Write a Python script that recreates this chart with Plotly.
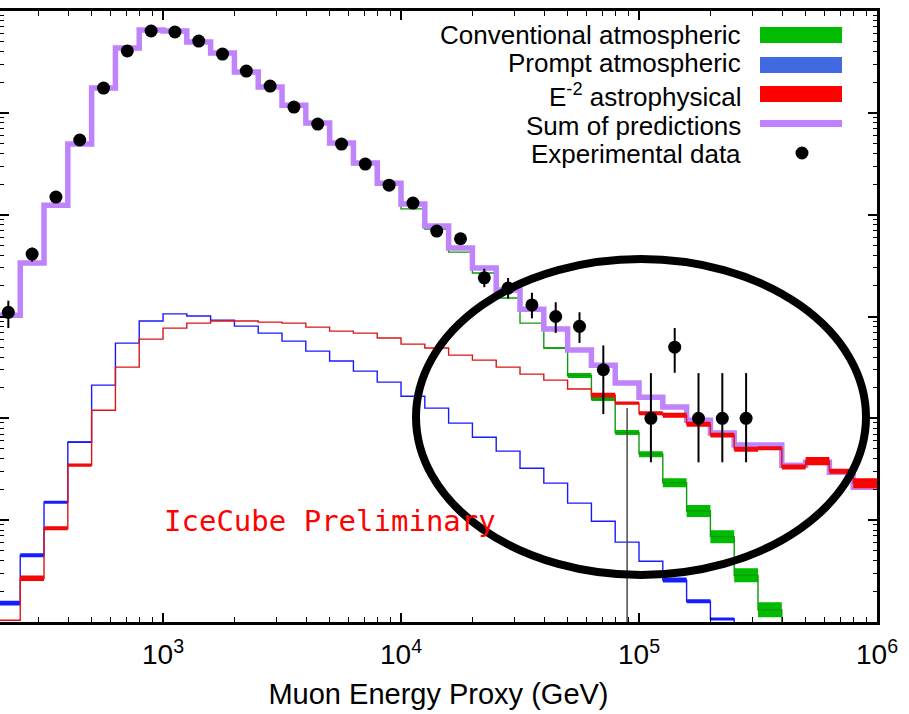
import plotly.graph_objects as go

# ---------------- data ----------------
# log10 bin edges of the muon energy proxy (GeV)
log_edges = [2.3, 2.4, 2.5, 2.6, 2.7, 2.8, 2.9, 3.0, 3.1, 3.2, 3.3, 3.4, 3.5, 3.6, 3.7,
             3.8, 3.9, 4.0, 4.1, 4.2, 4.3, 4.4, 4.5, 4.6, 4.7, 4.8, 4.9, 5.0, 5.1, 5.2,
             5.3, 5.4, 5.5, 5.6, 5.7, 5.8, 5.9, 6.0]

sum_pred = [10.3, 33.5, 124, 494, 1754, 4330, 6510, 6360, 4960, 3870, 2520, 1790, 1190, 794,
            505, 321, 204, 127, 77.3, 47.0, 29.9, 18.2, 11.8, 7.52, 4.68, 3.33, 2.22, 1.61,
            1.29, 0.96, 0.716, 0.546, 0.546, 0.347, 0.371, 0.296, 0.211]

conventional = [10.3, 33.4, 124, 493, 1750, 4320, 6495, 6340, 4940, 3850, 2500, 1775, 1175,
                782, 494, 311, 196, 114, 72.2, 42.9, 26.7, 15.2, 8.61, 4.90, 2.63, 1.55,
                0.724, 0.445, 0.233, 0.123, 0.0689, 0.0288, 0.0132, 0.005, 0.002, 0.001, 0.0005]
conventional_unc = [0] * 23 + [0.02, 0.058, 0.046, 0.058, 0.07, 0.107, 0.145, 0.158, 0.172,
                               0.185, 0.2, 0.2, 0.2, 0.2]

prompt = [0.0153, 0.0453, 0.150, 0.583, 2.12, 5.48, 9.02, 10.6, 10.1, 9.22, 8.05, 6.87, 5.73,
          4.57, 3.65, 2.91, 2.27, 1.65, 1.26, 0.897, 0.653, 0.476, 0.324, 0.231, 0.147,
          0.0977, 0.0608, 0.0395, 0.0258, 0.0160, 0.0107, 0.006, 0.004, 0.0025, 0.0015,
          0.001, 0.0006]
prompt_unc = [0.055, 0.046, 0.035, 0.02] + [0] * 24 + [0.058, 0.046, 0.035, 0.035, 0.035,
                                                      0.035, 0.035, 0.035, 0.035]

astro = [0.0104, 0.0269, 0.0834, 0.347, 1.20, 3.18, 6.00, 7.69, 8.61, 9.02, 9.02, 8.81, 8.61,
         7.87, 7.19, 6.87, 6.14, 5.36, 4.90, 4.18, 3.73, 3.18, 2.72, 2.37, 1.94, 1.69, 1.41,
         1.12, 1.07, 0.877, 0.684, 0.498, 0.509, 0.332, 0.380, 0.303, 0.231]
astro_unc = [0.0, 0.066, 0.046, 0.038] + [0] * 21 + [0.058, 0.035, 0.046, 0.058, 0.058, 0.058,
                                                    0.058, 0.046, 0.058, 0.095, 0.058, 0.12]

data_n = [11, 41, 149, 541, 1750, 4050, 6360, 6220, 5070, 3780, 2570, 1830, 1140, 776, 493,
          314, 195, 130, 69, 58, 24, 19, 13, 10, 8, 3, None, 1, 5, 1, 1, 1,
          None, None, None, None, None]
data_err_up = [3.3, 6.4, 12, 23, 42, 64, 80, 79, 71, 61, 51, 43, 34, 28, 22, 18, 14, 11, 8.3,
               7.6, 5.4, 4.9, 4.1, 3.8, 3.0, 2.2, 0, 1.78, 2.7, 1.78, 1.78, 1.78, 0, 0, 0, 0, 0]
data_err_dn = [3.3, 6.4, 12, 23, 42, 64, 80, 79, 71, 61, 51, 43, 34, 28, 22, 18, 14, 11, 8.3,
               7.6, 4.6, 4.0, 3.4, 3.1, 2.5, 1.9, 0, 0.63, 2.2, 0.63, 0.63, 0.63, 0, 0, 0, 0, 0]
# upper limit for bins with zero observed events
data_upper_limit = [None] * 26 + [1.26] + [None] * 10

x_tick_vals = [1e3, 1e4, 1e5, 1e6]
x_tick_text = ["10<sup>3</sup>", "10<sup>4</sup>", "10<sup>5</sup>", "10<sup>6</sup>"]
legend_labels = ["Conventional atmospheric", "Prompt atmospheric", "E<sup>-2</sup> astrophysical",
                 "Sum of predictions", "Experimental data"]

# ---------------- derived ----------------
edges = [10 ** e for e in log_edges]
centers = [10 ** ((a + b) / 2) for a, b in zip(log_edges[:-1], log_edges[1:])]
Y_LOG_RANGE = [-2, 4]
X_LOG_RANGE = [2.315, 6.0]


def step_xy(vals):
    return edges, list(vals) + [vals[-1]]


def band_xy(vals, unc):
    xs, ys = [], []
    for i, (v, u) in enumerate(zip(vals, unc)):
        if u > 0:
            x0, x1 = edges[i], edges[i + 1]
            lo, hi = v / (1 + u), v * (1 + u)
            xs += [x0, x1, x1, x0, x0, None]
            ys += [lo, lo, hi, hi, lo, None]
    return xs, ys


fig = go.Figure()

# conventional band + line
bx, by = band_xy(conventional, conventional_unc)
fig.add_trace(go.Scatter(x=bx, y=by, mode="lines", fill="toself", fillcolor="#00bb00",
                         line=dict(width=0, color="#00bb00"), hoverinfo="skip", showlegend=False))
sx, sy = step_xy(conventional)
fig.add_trace(go.Scatter(x=sx, y=sy, mode="lines", line=dict(shape="hv", width=1.4, color="#109a10"),
                         showlegend=False))

# sum of predictions
sx, sy = step_xy(sum_pred)
fig.add_trace(go.Scatter(x=sx, y=sy, mode="lines", line=dict(shape="hv", width=5.5, color="#bf84fb"),
                         showlegend=False))

# prompt
bx, by = band_xy(prompt, prompt_unc)
fig.add_trace(go.Scatter(x=bx, y=by, mode="lines", fill="toself", fillcolor="#1020ff",
                         line=dict(width=0, color="#1020ff"), hoverinfo="skip", showlegend=False))
sx, sy = step_xy(prompt)
fig.add_trace(go.Scatter(x=sx, y=sy, mode="lines", line=dict(shape="hv", width=1.4, color="#1a1aff"),
                         showlegend=False))

# astrophysical
bx, by = band_xy(astro, astro_unc)
fig.add_trace(go.Scatter(x=bx, y=by, mode="lines", fill="toself", fillcolor="#ff0000",
                         line=dict(width=0, color="#ff0000"), hoverinfo="skip", showlegend=False))
sx, sy = step_xy(astro)
fig.add_trace(go.Scatter(x=sx, y=sy, mode="lines", line=dict(shape="hv", width=1.4, color="#dd1515"),
                         showlegend=False))

# zero-count bins: upper limit line
ulx, uly = [], []
for c, ul in zip(centers, data_upper_limit):
    if ul is not None:
        ulx += [c, c, None]
        uly += [10 ** Y_LOG_RANGE[0], ul, None]
fig.add_trace(go.Scatter(x=ulx, y=uly, mode="lines", line=dict(width=1.5, color="#4a4a4a"),
                         showlegend=False))

# experimental data
fig.add_trace(go.Scatter(
    x=centers, y=data_n, mode="markers",
    marker=dict(size=13, color="black"),
    error_y=dict(type="data", symmetric=False, array=data_err_up, arrayminus=data_err_dn,
                 color="black", thickness=2, width=0),
    showlegend=False))

# ---------------- layout ----------------
minor_x = [m * 10 ** k for k in range(2, 6) for m in range(2, 10)]
minor_y = [m * 10 ** k for k in range(-2, 4) for m in range(2, 10)]
font_main = "Liberation Sans, Arial, Helvetica, sans-serif"

fig.update_layout(
    width=909, height=714,
    margin=dict(l=0, r=32, t=11, b=92),
    paper_bgcolor="white", plot_bgcolor="white",
    showlegend=False,
    font=dict(family=font_main, color="black"),
    xaxis=dict(
        type="log", range=X_LOG_RANGE,
        tickvals=x_tick_vals, ticktext=x_tick_text,
        ticks="inside", ticklen=9, tickwidth=1.6, tickcolor="black",
        showline=True, linewidth=2.5, linecolor="black", mirror="ticks",
        showgrid=False, zeroline=False,
        tickfont=dict(size=28, family=font_main),
        ticklabelstandoff=6,
        minor=dict(tickvals=minor_x, ticks="inside", ticklen=5, tickwidth=1.3, tickcolor="black",
                   showgrid=False),
        title=dict(text="Muon Energy Proxy (GeV)", font=dict(size=29, family=font_main), standoff=15),
    ),
    yaxis=dict(
        type="log", range=Y_LOG_RANGE,
        tickvals=[10 ** k for k in range(-2, 5)], showticklabels=False,
        ticks="inside", ticklen=9, tickwidth=1.6, tickcolor="black",
        showline=True, linewidth=2.5, linecolor="black", mirror="ticks",
        showgrid=False, zeroline=False,
        minor=dict(tickvals=minor_y, ticks="inside", ticklen=4, tickwidth=1.3, tickcolor="black",
                   showgrid=False),
    ),
)

# plot-area pixel helpers for annotation layout (plot area: x 0..877, y 11..622)
PW, PT, PB = 877.0, 11.0, 622.0


def px(x):
    return x / PW


def py(y):
    return (PB - y) / (PB - PT)


shapes = []
# legend swatches
swatch_colors = ["#00bb00", "#4169e1", "#ff0000"]
swatch_rows = [(27, 43), (57, 73), (86, 102)]
for col, (t, b) in zip(swatch_colors, swatch_rows):
    shapes.append(dict(type="rect", xref="paper", yref="paper", x0=px(760), x1=px(842),
                       y0=py(b), y1=py(t), fillcolor=col, line=dict(width=0), layer="above"))
shapes.append(dict(type="line", xref="paper", yref="paper", x0=px(760), x1=px(842),
                   y0=py(123.5), y1=py(123.5), line=dict(color="#c080ff", width=7), layer="above"))
shapes.append(dict(type="circle", xref="paper", yref="paper", x0=px(795.5), x1=px(808.5),
                   y0=py(159.5), y1=py(146.5), fillcolor="black", line=dict(width=0), layer="above"))
# highlight ellipse
shapes.append(dict(type="circle", xref="paper", yref="paper", x0=px(416), x1=px(866),
                   y0=py(575), y1=py(259), line=dict(color="black", width=8), layer="above"))
fig.update_layout(shapes=shapes)

annotations = []
legend_y = [35, 63, 95, 126, 154]
for lab, yy in zip(legend_labels, legend_y):
    annotations.append(dict(text=lab, xref="paper", yref="paper", x=px(743), y=py(yy),
                            xanchor="right", yanchor="middle", showarrow=False,
                            font=dict(size=26, family=font_main, color="black")))
annotations.append(dict(text="IceCube Preliminary", xref="paper", yref="paper", x=px(330), y=py(521),
                        xanchor="center", yanchor="middle", showarrow=False,
                        font=dict(size=29, family="DejaVu Sans Mono, monospace", color="#ff0000")))
fig.update_layout(annotations=annotations)

fig.write_html("out.html")
